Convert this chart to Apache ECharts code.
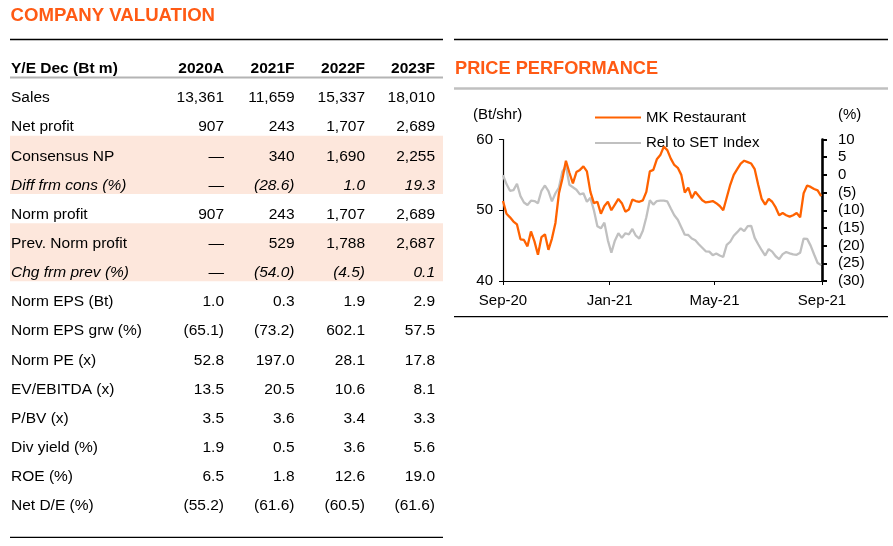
<!DOCTYPE html>
<html>
<head>
<meta charset="utf-8">
<script src="https://cdn.jsdelivr.net/npm/echarts/dist/echarts.min.js"></script>
<style>
  html, body { margin: 0; padding: 0; background: #fff; }
  #main { width: 893px; height: 546px; }
</style>
</head>
<body>
<div id="main"></div>
<script>
// ---- table data ----
var colHeaders = ["2020A", "2021F", "2022F", "2023F"];
var rowLabels = ["Sales", "Net profit", "Consensus NP", "Diff frm cons (%)", "Norm profit",
    "Prev. Norm profit", "Chg frm prev (%)", "Norm EPS (Bt)", "Norm EPS grw (%)", "Norm PE (x)",
    "EV/EBITDA (x)", "P/BV (x)", "Div yield (%)", "ROE (%)", "Net D/E (%)"];
var rowDecimals = [0, 0, 0, 1, 0, 0, 1, 1, 1, 1, 1, 1, 1, 1, 1];
var italicRows = [3, 6];
var shadedRows = [[2, 3], [5, 6]];
var val2020A = [13361, 907, null, null, 907, null, null, 1.0, -65.1, 52.8, 13.5, 3.5, 1.9, 6.5, -55.2];
var val2021F = [11659, 243, 340, -28.6, 243, 529, -54.0, 0.3, -73.2, 197.0, 20.5, 3.6, 0.5, 1.8, -61.6];
var val2022F = [15337, 1707, 1690, 1.0, 1707, 1788, -4.5, 1.9, 602.1, 28.1, 10.6, 3.4, 3.6, 12.6, -60.5];
var val2023F = [18010, 2689, 2255, 19.3, 2689, 2687, 0.1, 2.9, 57.5, 17.8, 8.1, 3.3, 5.6, 19.0, -61.6];

// ---- price chart data (every 4 days) ----
var dates = ["2020-09-01","2020-09-05","2020-09-09","2020-09-13","2020-09-17","2020-09-21","2020-09-25","2020-09-29",
    "2020-10-03","2020-10-07","2020-10-11","2020-10-15","2020-10-19","2020-10-23","2020-10-27","2020-10-31",
    "2020-11-04","2020-11-08","2020-11-12","2020-11-16","2020-11-20","2020-11-24","2020-11-28","2020-12-02",
    "2020-12-06","2020-12-10","2020-12-14","2020-12-18","2020-12-22","2020-12-26","2020-12-30","2021-01-03",
    "2021-01-07","2021-01-11","2021-01-15","2021-01-19","2021-01-23","2021-01-27","2021-01-31","2021-02-04",
    "2021-02-08","2021-02-12","2021-02-16","2021-02-20","2021-02-24","2021-02-28","2021-03-04","2021-03-08",
    "2021-03-12","2021-03-16","2021-03-20","2021-03-24","2021-03-28","2021-04-01","2021-04-05","2021-04-09",
    "2021-04-13","2021-04-17","2021-04-21","2021-04-25","2021-04-29","2021-05-03","2021-05-07","2021-05-11",
    "2021-05-15","2021-05-19","2021-05-23","2021-05-27","2021-05-31","2021-06-04","2021-06-08","2021-06-12",
    "2021-06-16","2021-06-20","2021-06-24","2021-06-28","2021-07-02","2021-07-06","2021-07-10","2021-07-14",
    "2021-07-18","2021-07-22","2021-07-26","2021-07-30","2021-08-03","2021-08-07","2021-08-11","2021-08-15",
    "2021-08-19","2021-08-23","2021-08-27","2021-08-31"];
var mkPrice = [51.3, 49.5, 49.0, 48.4, 48.0, 45.9, 45.8, 44.9, 47.0, 45.6, 43.7, 46.2, 46.6, 44.4, 46.0, 48.2,
    52.4, 54.5, 57.0, 55.3, 53.8, 55.4, 55.7, 56.2, 55.5, 52.6, 51.0, 51.2, 49.5, 50.6, 51.2, 50.0,
    50.8, 51.6, 51.0, 49.8, 50.1, 51.5, 51.3, 51.2, 51.4, 52.6, 55.5, 55.7, 57.2, 57.8, 59.0, 58.5,
    57.3, 56.4, 56.0, 55.0, 52.5, 53.2, 51.7, 52.6, 52.0, 51.4, 51.1, 51.2, 51.3, 51.0, 50.6, 50.0,
    51.8, 53.6, 55.0, 55.8, 56.6, 57.0, 56.8, 56.6, 55.8, 53.6, 51.6, 50.8, 51.6, 51.2, 50.4, 49.3,
    49.6, 49.3, 49.1, 49.3, 49.6, 49.0, 52.4, 53.5, 53.3, 53.0, 52.8, 52.0];
var relSet = [-0.1, -2.6, -4.5, -4.3, -2.5, -6.0, -7.8, -8.5, -7.3, -7.4, -8.0, -4.5, -3.0, -4.6, -7.5, -5.2,
    -3.6, 1.0, 2.5, -2.8, -3.5, -4.2, -5.5, -5.2, -7.6, -6.5, -10.0, -14.5, -15.1, -13.5, -18.5, -22.0,
    -18.6, -16.5, -17.8, -16.5, -16.8, -15.3, -17.2, -18.0, -15.8, -12.0, -7.2, -8.4, -7.4, -7.3, -7.3, -7.5,
    -9.5, -11.4, -12.7, -14.8, -16.9, -17.0, -18.0, -18.5, -19.6, -20.6, -21.6, -21.7, -22.7, -22.2, -22.8, -23.2,
    -19.8, -18.9, -17.2, -16.2, -15.1, -15.9, -14.5, -14.4, -17.8, -19.6, -21.3, -22.8, -21.0, -21.7, -23.0, -23.8,
    -22.4, -21.8, -22.2, -22.5, -22.6, -22.0, -18.0, -18.1, -20.0, -22.5, -24.9, -25.5];
var xStart = "2020-09-01";
var xEnd = "2021-09-01";
var xTickDates = ["2020-09-01", "2021-01-01", "2021-05-01", "2021-09-01"];
var monthNames = ["Jan","Feb","Mar","Apr","May","Jun","Jul","Aug","Sep","Oct","Nov","Dec"];

var FONT = 'Arial, "Liberation Sans", sans-serif';
var ORANGE = "#FF6200";
var chart = echarts.init(document.getElementById("main"));

// days since xStart, so the x axis can be a plain value axis
function dayNum(s) {
    var p = s.split("-"), q = xStart.split("-");
    var a = Date.UTC(+p[0], +p[1] - 1, +p[2]), b = Date.UTC(+q[0], +q[1] - 1, +q[2]);
    return Math.round((a - b) / 86400000);
}

function fmtCell(v, dec) {
    if (v === null) return "\u2014";
    var s = Math.abs(v).toFixed(dec);
    if (dec === 0) s = s.replace(/\B(?=(\d{3})+(?!\d))/g, ",");
    return v < 0 ? "(" + s + ")" : s;
}

function rowY(i) {
    return 98 + i * 29.14;
}

// ---- table drawn as graphic elements ----
var graphics = [];
shadedRows.forEach(function (r) {
    var top = rowY(r[0]) - 20.5;
    graphics.push({
        type: "rect", z: 1,
        shape: {x: 10, y: top, width: 433, height: rowY(r[1]) + 8.5 - top},
        style: {fill: "#FDE7DC"}
    });
});
function hline(x1, x2, y, color, w) {
    graphics.push({type: "line", z: 2, shape: {x1: x1, y1: y, x2: x2, y2: y}, style: {stroke: color, lineWidth: w}});
}
hline(10, 443, 39.5, "#000", 1.3);
hline(10, 443, 77.5, "#B4B4B4", 2.2);
hline(10, 443, 537.3, "#000", 1.3);
hline(454, 888, 39.5, "#000", 1.3);
hline(454, 888, 88.5, "#C0C0C0", 2.5);
hline(454, 888, 316.7, "#000", 1.3);

function text(str, x, y, opt) {
    opt = opt || {};
    graphics.push({
        type: "text", z: 3, x: x, y: y,
        style: {
            text: str,
            fill: opt.color || "#000",
            font: (opt.italic ? "italic " : "") + (opt.bold ? "bold " : "") + (opt.size || 15.5) + "px " + FONT,
            align: opt.align || "left",
            verticalAlign: "middle"
        }
    });
}
text("COMPANY VALUATION", 10.5, 16, {bold: true, size: 18.6, color: "#FF5A14"});
text("PRICE PERFORMANCE", 455, 68.5, {bold: true, size: 18.2, color: "#FF5A14"});

var colRight = [224, 294.5, 365, 435];
var cols = [val2020A, val2021F, val2022F, val2023F];
text("Y/E Dec (Bt m)", 11, 68.3, {bold: true});
colHeaders.forEach(function (h, c) {
    text(h, colRight[c], 68.3, {bold: true, align: "right"});
});
rowLabels.forEach(function (label, i) {
    var it = italicRows.indexOf(i) >= 0;
    text(label, 11, rowY(i), {italic: it});
    cols.forEach(function (col, c) {
        text(fmtCell(col[i], rowDecimals[i]), colRight[c], rowY(i), {italic: it, align: "right"});
    });
});

text("(Bt/shr)", 473, 115, {size: 15});
text("(%)", 838, 115, {size: 15});

// ---- price chart ----
var tickDays = xTickDates.map(dayNum);
var option = {
    animation: false,
    backgroundColor: "#fff",
    textStyle: {fontFamily: FONT},
    graphic: graphics,
    legend: {
        orient: "vertical",
        left: 589, top: 105,
        itemWidth: 46, itemHeight: 14, itemGap: 10.5,
        itemStyle: {opacity: 0},
        textStyle: {fontSize: 15, color: "#000", fontFamily: FONT},
        data: ["MK Restaurant", "Rel to SET Index"]
    },
    grid: {left: 503, top: 139.5, width: 319, height: 141.5},
    xAxis: {
        type: "value",
        min: 0,
        max: dayNum(xEnd),
        splitLine: {show: false},
        axisLine: {onZero: false, lineStyle: {color: "#000", width: 1.2}},
        axisTick: {show: true, length: 4, lineStyle: {color: "#000"}, customValues: tickDays},
        axisLabel: {
            customValues: tickDays,
            color: "#000", fontSize: 15, margin: 12,
            formatter: function (v) {
                var i = tickDays.indexOf(v);
                if (i < 0) return "";
                var p = xTickDates[i].split("-");
                return monthNames[+p[1] - 1] + "-" + p[0].slice(2);
            }
        }
    },
    yAxis: [{
        type: "value", min: 40, max: 60, interval: 10,
        splitLine: {show: false},
        axisLine: {show: true, onZero: false, lineStyle: {color: "#000", width: 1.2}},
        axisTick: {show: true, length: 4, lineStyle: {color: "#000"}},
        axisLabel: {color: "#000", fontSize: 15, margin: 10}
    }, {
        type: "value", min: -30, max: 10, interval: 5, position: "right",
        splitLine: {show: false},
        axisLine: {show: true, onZero: false, lineStyle: {color: "#000", width: 2.6}},
        axisTick: {show: true, length: 5, lineStyle: {color: "#000", width: 2}},
        axisLabel: {
            color: "#000", fontSize: 15, margin: 16,
            formatter: function (v) { return v < 0 ? "(" + (-v) + ")" : String(v); }
        }
    }],
    series: [{
        name: "Rel to SET Index",
        type: "line", yAxisIndex: 1, symbol: "none",
        color: "#C0C0C0",
        lineStyle: {color: "#C0C0C0", width: 2.3},
        data: dates.map(function (d, i) { return [dayNum(d), relSet[i]]; })
    }, {
        name: "MK Restaurant",
        type: "line", yAxisIndex: 0, symbol: "none",
        color: ORANGE,
        lineStyle: {color: ORANGE, width: 2.3},
        data: dates.map(function (d, i) { return [dayNum(d), mkPrice[i]]; })
    }]
};
chart.setOption(option);
</script>
</body>
</html>
